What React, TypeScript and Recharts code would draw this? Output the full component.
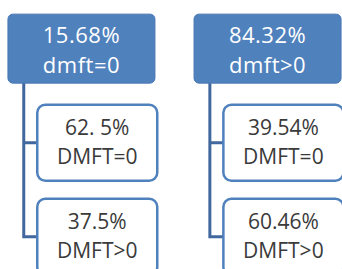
import { ScatterChart, Scatter, XAxis, YAxis } from 'recharts';

// top row: share of children by dmft, second level: DMFT split
const groupLabels = ['dmft=0', 'dmft>0'];
const groupShares = ['15.68%', '84.32%'];
const childLabels = ['DMFT=0', 'DMFT>0'];
const childShares = [
    ['62. 5%', '37.5%'],
    ['39.54%', '60.46%'],
];

const CHILD_DX = 0.085;
const TRUNK_DX = -0.31;
const FONT = '"Open Sans", "Noto Sans", sans-serif';

const parents = groupLabels.map((label, g) => ({ x: g, y: 0, share: groupShares[g], label }));
const children = groupLabels.flatMap((_, g) =>
    childLabels.map((label, k) => ({ x: g + CHILD_DX, y: k + 1, share: childShares[g][k], label }))
);
const connectors = groupLabels.map((_, g) => {
    const t = g + TRUNK_DX;
    const c = g + CHILD_DX;
    return [
        { x: t, y: 0 },
        { x: t, y: 1 },
        { x: c, y: 1 },
        { x: t, y: 1 },
        { x: t, y: 2 },
        { x: c, y: 2 },
    ];
});

const ParentBox = (props: any) => {
    const { cx, cy, payload } = props;
    return (
        <g>
            <rect x={cx - 73.5} y={cy - 34.5} width={147} height={69} rx={5} fill="#4f81bd" stroke="#4877b3" strokeWidth={1} />
            <text x={cx} y={cy - 6} textAnchor="middle" fill="#ffffff" fontFamily={FONT} fontSize={22} letterSpacing={0.5}>
                {payload.share}
            </text>
            <text x={cx} y={cy + 24.5} textAnchor="middle" fill="#ffffff" fontFamily={FONT} fontSize={22} letterSpacing={0.5}>
                {payload.label}
            </text>
        </g>
    );
};

const ChildBox = (props: any) => {
    const { cx, cy, payload } = props;
    return (
        <g>
            <rect x={cx - 60} y={cy - 38} width={120} height={76} rx={8} fill="#ffffff" stroke="#4f81bd" strokeWidth={2.5} />
            <text x={cx} y={cy - 7.5} textAnchor="middle" fill="#3a3a3a" fontFamily={FONT} fontSize={21}>
                {payload.share}
            </text>
            <text x={cx} y={cy + 21.5} textAnchor="middle" fill="#3a3a3a" fontFamily={FONT} fontSize={21}>
                {payload.label}
            </text>
        </g>
    );
};

export default function App() {
    return (
        <div style={{ position: 'fixed', top: 0, left: 0, width: 342, height: 269, overflow: 'hidden', background: '#fff' }}>
            <ScatterChart width={342} height={269} margin={{ top: 11, right: 0, bottom: 4, left: 7 }}>
                <XAxis type="number" dataKey="x" domain={[-0.4, 1.4]} hide />
                <YAxis type="number" dataKey="y" domain={[-0.4, 2.3]} reversed hide />
                {connectors.map((pts, i) => (
                    <Scatter
                        key={'c' + i}
                        data={pts}
                        line={{ stroke: '#41679f', strokeWidth: 3 }}
                        lineType="joint"
                        shape={() => <g />}
                        isAnimationActive={false}
                    />
                ))}
                <Scatter data={parents} shape={(p: any) => <ParentBox {...p} />} isAnimationActive={false} />
                <Scatter data={children} shape={(p: any) => <ChildBox {...p} />} isAnimationActive={false} />
            </ScatterChart>
        </div>
    );
}
